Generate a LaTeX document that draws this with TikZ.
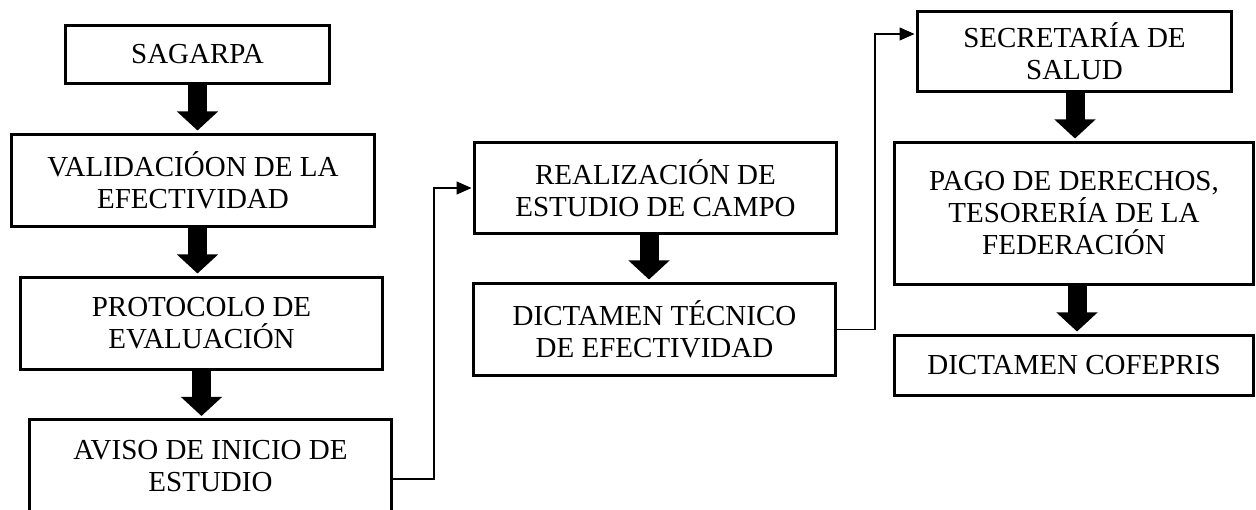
\documentclass[tikz,border=0pt]{standalone}
\usepackage{fontspec}
\setmainfont{Liberation Serif}
\usetikzlibrary{arrows.meta}
\begin{document}
\begin{tikzpicture}[x=1pt,y=-1pt,
  box/.style={draw=black,line width=3pt,fill=white,align=center,inner sep=0pt,
    font=\fontsize{29pt}{32pt}\selectfont},
  blockarrow/.style={line width=19pt,-{Triangle[length=19pt,width=40pt]},shorten >=2.5pt},
  conn/.style={line width=1.2pt,-{Triangle[length=15pt,width=13pt]},shorten >=1.5pt}]
\useasboundingbox (0,0) rectangle (1256,510);
\fill[white] (0,0) rectangle (1256,510);
% left column
\node[box,minimum width=264pt,minimum height=58pt] (sag) at (197.5,54.5) {SAGARPA};
\node[box,minimum width=363pt,minimum height=92pt] (val) at (193,180.5) {VALIDACIÓON DE LA\\EFECTIVIDAD};
\node[box,minimum width=362pt,minimum height=92pt] (pro) at (201.5,323.5) {PROTOCOLO DE\\EVALUACIÓN};
\node[box,minimum width=362pt,minimum height=92pt] (avi) at (210.5,466) {AVISO DE INICIO DE\\ESTUDIO};
% middle column
\node[box,minimum width=362pt,minimum height=91pt] (rea) at (655.5,188) {REALIZACIÓN DE\\ESTUDIO DE CAMPO};
\node[box,minimum width=362pt,minimum height=92pt] (dic) at (654.5,329.5) {DICTAMEN TÉCNICO\\DE EFECTIVIDAD};
% right column
\node[box,minimum width=314pt,minimum height=80pt] (sec) at (1074.5,51.5) {SECRETARÍA DE\\SALUD};
\node[box,minimum width=359pt,minimum height=142pt] (pag) at (1074,213.5) {PAGO DE DERECHOS,\\TESORERÍA DE LA\\FEDERACIÓN};
\node[box,minimum width=359pt,minimum height=60pt] (cof) at (1074,365.5) {DICTAMEN COFEPRIS};
% block arrows
\draw[blockarrow] (sag.south) -- (sag.south |- val.north);
\draw[blockarrow] ([xshift=4.5pt]val.south) -- ([xshift=4.5pt]val.south |- pro.north);
\draw[blockarrow] (pro.south) -- (pro.south |- avi.north);
\draw[blockarrow] ([xshift=-6.5pt]rea.south) -- ([xshift=-6.5pt]rea.south |- dic.north);
\draw[blockarrow] ([xshift=0.5pt]sec.south) -- ([xshift=0.5pt]sec.south |- pag.north);
\draw[blockarrow] ([xshift=3pt]pag.south) -- ([xshift=3pt]pag.south |- cof.north);
% connectors
\draw[conn] ([yshift=-13pt]avi.east) -- ++(41,0) |- (rea.west);
\draw[conn] (dic.east) -- ++(38,0) |- ([yshift=17.5pt]sec.west);
\end{tikzpicture}
\end{document}
